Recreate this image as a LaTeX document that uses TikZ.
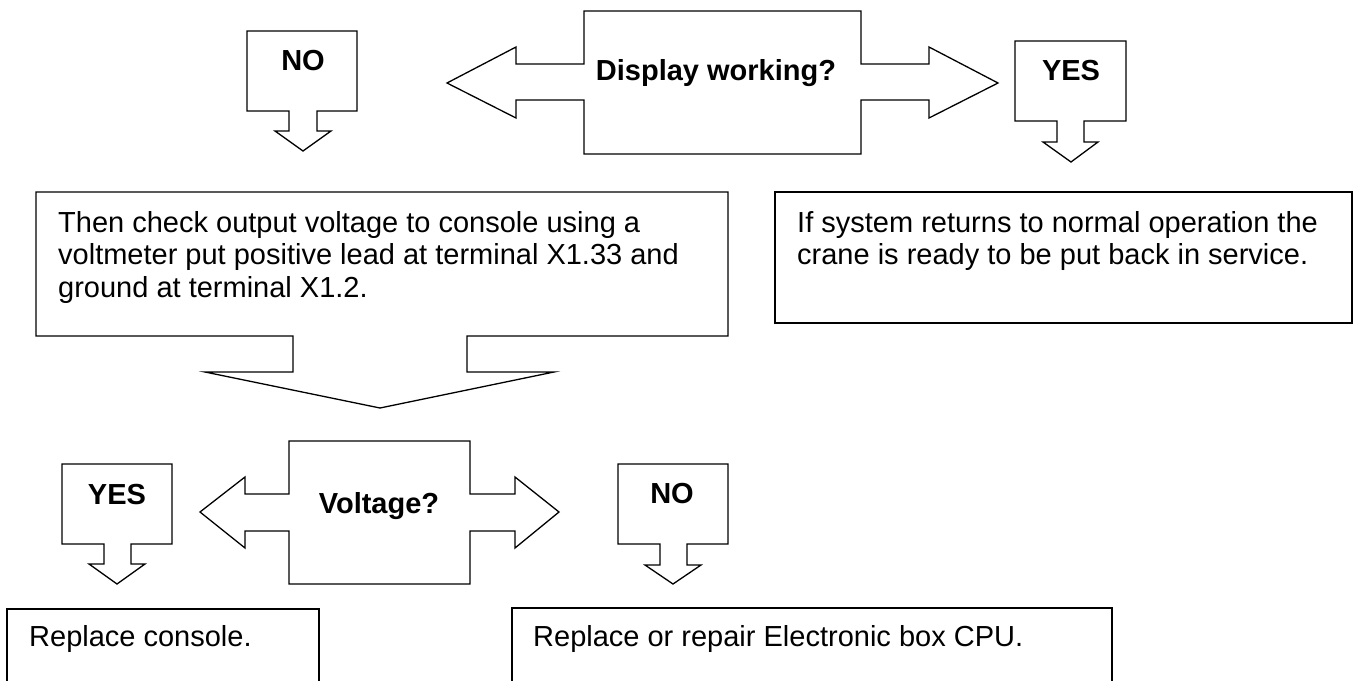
\documentclass[tikz,border=0pt]{standalone}
\usepackage{fontspec}
\setmainfont{Liberation Sans}
\begin{document}
\begin{tikzpicture}[x=1pt,y=-1pt,
  shp/.style={draw=black,line width=1.3pt,line join=miter,fill=white},
  lbl/.style={font=\fontsize{29}{33}\selectfont\bfseries,inner sep=0pt,anchor=base},
  body/.style={font=\fontsize{29}{32.5}\selectfont,inner sep=0pt,anchor=north west,align=left}]
\useasboundingbox (0,0) rectangle (1354,680);
% top NO callout
\draw[shp] (247,31) -- (357,31) -- (357,111) -- (317,111) -- (317,131) -- (331,131) -- (303,151) -- (275,131) -- (289,131) -- (289,111) -- (247,111) -- cycle;
\node[lbl] (no1) at (303,70) {NO};
% Display working callout
\draw[shp] (584,11) -- (861,11) -- (861,64) -- (929,64) -- (929,47) -- (998,83) -- (929,118) -- (929,100) -- (861,100) -- (861,154) -- (584,154) -- (584,100) -- (516,100) -- (516,118) -- (447,83) -- (516,47) -- (516,64) -- (584,64) -- cycle;
\node[lbl] (q1) at (716,80) {Display working?};
% top YES callout
\draw[shp] (1015,41) -- (1126,41) -- (1126,121) -- (1084,121) -- (1084,142) -- (1098,142) -- (1071,162) -- (1043,142) -- (1057,142) -- (1057,121) -- (1015,121) -- cycle;
\node[lbl] (yes1) at (1071,80) {YES};
% big check box
\draw[shp] (36,192) -- (728,192) -- (728,336) -- (467,336) -- (467,372) -- (554,372) -- (380,408) -- (205,372) -- (293,372) -- (293,336) -- (36,336) -- cycle;
\node[body] (check) at (58,211) {Then check output voltage to console using a\\voltmeter put positive lead at terminal X1.33 and\\ground at terminal X1.2.};
% right box
\draw[shp] (775,192) rectangle (1352,323);
\node[body] (ok) at (797,211) {If system returns to normal operation the\\crane is ready to be put back in service.};
% Voltage callout
\draw[shp] (289,441) -- (470,441) -- (470,494) -- (515,494) -- (515,477) -- (559,512) -- (515,548) -- (515,531) -- (470,531) -- (470,584) -- (289,584) -- (289,531) -- (245,531) -- (245,548) -- (200,512) -- (245,477) -- (245,494) -- (289,494) -- cycle;
\node[lbl] (q2) at (379,513) {Voltage?};
% bottom YES callout
\draw[shp] (62,464) -- (172,464) -- (172,544) -- (131,544) -- (131,564) -- (145,564) -- (117,584) -- (89,564) -- (104,564) -- (104,544) -- (62,544) -- cycle;
\node[lbl] (yes2) at (117,504) {YES};
% bottom NO callout
\draw[shp] (618,464) -- (728,464) -- (728,544) -- (687,544) -- (687,565) -- (701,565) -- (673,584) -- (645,565) -- (660,565) -- (660,544) -- (618,544) -- cycle;
\node[lbl] (no2) at (672,503) {NO};
% bottom boxes
\draw[shp] (7,681) -- (7,609) -- (319,609) -- (319,681);
\node[body] (console) at (29,625) {Replace console.};
\draw[shp] (512,681) -- (512,608) -- (1112,608) -- (1112,681);
\node[body] (cpu) at (533,625) {Replace or repair Electronic box CPU.};
\end{tikzpicture}
\end{document}
